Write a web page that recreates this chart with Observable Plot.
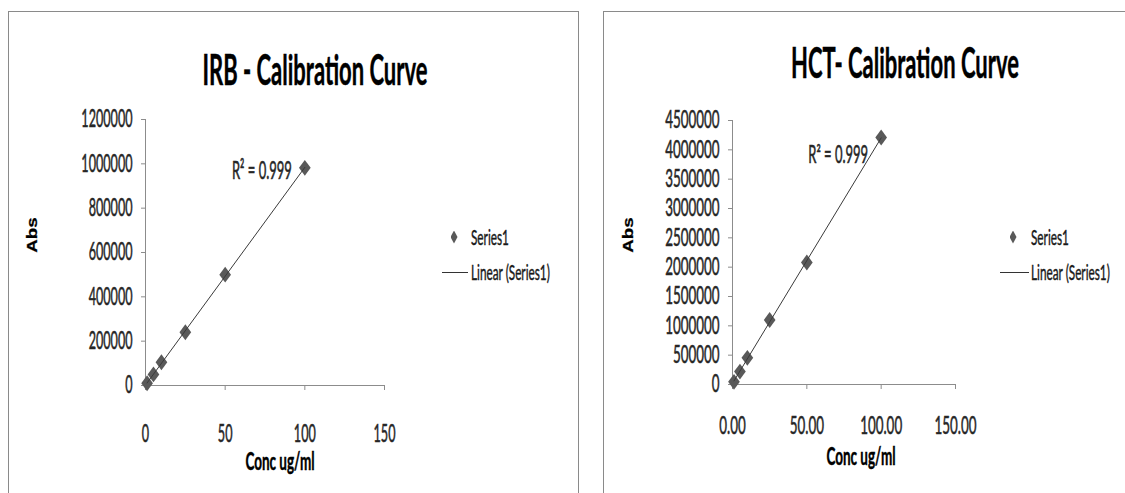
<!DOCTYPE html>
<html><head><meta charset="utf-8">
<script src="https://cdn.jsdelivr.net/npm/d3@7"></script>
<script src="https://cdn.jsdelivr.net/npm/@observablehq/plot@0.6"></script>
<style>
html,body{margin:0;padding:0;background:#fff;}
#root{position:relative;width:1125px;height:493px;overflow:hidden;background:#fff;font-family:Lato,"Open Sans",sans-serif;color:#000;}
.panel{position:absolute;border:1px solid #8a8a8a;border-bottom:none;}
.t{position:absolute;white-space:nowrap;line-height:1;-webkit-text-stroke:0.25px currentColor;}
.plot{position:absolute;top:0;}
.plot text{stroke:#262626;stroke-width:0.3px;}
.dia{position:absolute;background:#595959;clip-path:polygon(50% 0,100% 50%,50% 100%,0 50%);}
.lline{position:absolute;height:0;border-top:1px solid #333;}
</style></head><body><div id="root"></div>
<script>
// ---- data ----
const irbConc = [1, 5, 10, 25, 50, 100];
const irbAbs = [10000, 50000, 105000, 240000, 500000, 982000];
const hctConc = [1, 5, 10, 25, 50, 100];
const hctAbs = [45000, 220000, 455000, 1100000, 2080000, 4210000];
const irbYTicks = [0, 200000, 400000, 600000, 800000, 1000000, 1200000];
const hctYTicks = [0, 500000, 1000000, 1500000, 2000000, 2500000, 3000000, 3500000, 4000000, 4500000];
const xTicks = [0, 50, 100, 150];
const titles = ["IRB - Calibration Curve", "HCT- Calibration Curve"];
const xLabel = "Conc ug/ml";
const yLabel = "Abs";
const r2Label = "R\u00b2 = 0.999";
const legendLabels = ["Series1", "Linear (Series1)"];

const root = document.getElementById("root");

const diamond = {
  draw(ctx, size) {
    const r = Math.sqrt(size / Math.PI);
    const w = r * 0.9, h = r * 1.22;
    ctx.moveTo(0, -h); ctx.lineTo(w, 0); ctx.lineTo(0, h); ctx.lineTo(-w, 0); ctx.closePath();
  }
};

function stretch(svg, sx, sy) {
  svg.querySelectorAll("text").forEach(t => {
    let tr = t.getAttribute("transform") || "";
    const x = t.getAttribute("x"), y = t.getAttribute("y");
    if (x != null && !String(x).endsWith("em")) { tr += ` translate(${x},0)`; t.removeAttribute("x"); }
    if (y != null && !String(y).endsWith("em")) { tr += ` translate(0,${y})`; t.removeAttribute("y"); }
    t.setAttribute("transform", `${tr} scale(${sx},${sy})`);
  });
}

function addText(txt, {x, y, size, bold = false, family = null, anchor = "center", sx = 1, sy = 1, rotate = 0, color = "#000"}) {
  const d = document.createElement("div");
  d.className = "t";
  d.textContent = txt;
  d.style.left = x + "px";
  d.style.top = y + "px";
  d.style.fontSize = size + "px";
  d.style.fontWeight = bold ? "bold" : "normal";
  d.style.color = color;
  if (family) d.style.fontFamily = family;
  if (anchor === "center") {
    d.style.transformOrigin = "50% 50%";
    d.style.transform = `translate(-50%,-50%) rotate(${rotate}deg) scale(${sx},${sy})`;
  } else {
    d.style.transformOrigin = "0 50%";
    d.style.transform = `translate(0,-50%) scale(${sx},${sy})`;
  }
  root.appendChild(d);
}

function panel(cfg) {
  const p = document.createElement("div");
  p.className = "panel";
  Object.assign(p.style, {left: cfg.panel[0] + "px", top: cfg.panel[1] + "px", width: cfg.panel[2] + "px", height: cfg.panel[3] + "px"});
  root.appendChild(p);

  const data = cfg.conc.map((c, i) => ({conc: c, abs: cfg.abs[i]}));
  const last = data[data.length - 1];
  const svg = Plot.plot({
    width: cfg.width, height: 493,
    marginLeft: cfg.ml, marginRight: cfg.mr, marginTop: cfg.mt, marginBottom: cfg.mb,
    style: {background: "transparent", fontFamily: "Lato, 'Open Sans', sans-serif", fontSize: cfg.fs + "px", color: "#262626"},
    x: {domain: [0, 150]},
    y: {domain: [0, cfg.yMax]},
    marks: [
      Plot.ruleY([0], {stroke: "#8c8c8c"}),
      Plot.ruleX([0], {stroke: "#8c8c8c"}),
      Plot.axisY(cfg.yTicks, {tickSize: 4, tickPadding: 9, tickFormat: d3.format("d"), stroke: "#8c8c8c", label: null}),
      Plot.axisX(xTicks, {tickSize: 5, tickPadding: cfg.xPad, tickFormat: cfg.xFmt, stroke: "#8c8c8c", label: null}),
      Plot.dot(data, {x: "conc", y: "abs", symbol: diamond, r: 6.5, fill: "#595959"}),
      Plot.linearRegressionY(data, {x: "conc", y: "abs", stroke: "#3a3a3a", strokeWidth: 1, ci: 0}),
      Plot.text([last], {x: "conc", y: "abs", text: () => r2Label, textAnchor: "end", dx: cfg.r2dx, dy: cfg.r2dy, fontSize: 13, fill: "#262626"})
    ]
  });
  stretch(svg, cfg.sx, cfg.sy);
  svg.classList.add("plot");
  svg.style.left = cfg.svgLeft + "px";
  root.appendChild(svg);

  addText(cfg.title, {x: cfg.titlePos[0], y: cfg.titlePos[1], size: 22, bold: true, sy: 1.95});
  addText(yLabel, {x: cfg.yLabPos[0], y: cfg.yLabPos[1], size: 15, bold: true, family: "'Liberation Sans', Arial, sans-serif", rotate: -90, sx: 1.25, sy: 1});
  addText(xLabel, {x: cfg.xLabPos[0], y: cfg.xLabPos[1], size: 13.5, bold: true, sy: 1.85});

  const [dx, dy] = cfg.legDia;
  const dia = document.createElement("div");
  dia.className = "dia";
  Object.assign(dia.style, {left: (dx - 3.5) + "px", top: (dy - 6.5) + "px", width: "7px", height: "13px"});
  root.appendChild(dia);
  addText(legendLabels[0], {x: cfg.legText, y: dy, size: 11.8, anchor: "left", sy: 1.85, color: "#1a1a1a"});
  const ln = document.createElement("div");
  ln.className = "lline";
  Object.assign(ln.style, {left: cfg.legLine[0] + "px", top: cfg.legLine[2] + "px", width: (cfg.legLine[1] - cfg.legLine[0]) + "px"});
  root.appendChild(ln);
  addText(legendLabels[1], {x: cfg.legText, y: cfg.legLine[2], size: 11.8, anchor: "left", sy: 1.85, color: "#1a1a1a"});
}

panel({
  panel: [8, 11, 569, 490], conc: irbConc, abs: irbAbs, yTicks: irbYTicks, yMax: 1200000,
  xFmt: d3.format("d"), width: 580, svgLeft: 0, ml: 145, mr: 196, mt: 119, mb: 108,
  fs: 12.6, sx: 1, sy: 1.95, xPad: 34, r2dx: -13, r2dy: 3,
  title: titles[0], titlePos: [315, 69], yLabPos: [31, 235], xLabPos: [280, 462],
  legDia: [454, 237], legText: 471, legLine: [442, 468, 272]
});
panel({
  panel: [603, 11, 600, 490], conc: hctConc, abs: hctAbs, yTicks: hctYTicks, yMax: 4500000,
  xFmt: d3.format(".2f"), width: 540, svgLeft: 585, ml: 147, mr: 170, mt: 120, mb: 109,
  fs: 13.4, sx: 1, sy: 1.85, xPad: 27, r2dx: -13, r2dy: 18,
  title: titles[1], titlePos: [905, 62], yLabPos: [627, 235], xLabPos: [861, 457],
  legDia: [1013, 237], legText: 1031, legLine: [1000, 1029, 272]
});
</script></body></html>
